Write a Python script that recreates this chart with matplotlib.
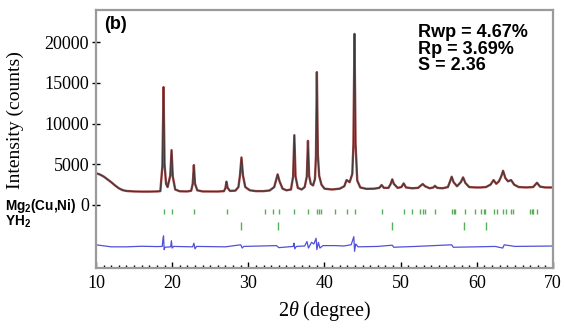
import matplotlib
matplotlib.use('Agg')
import matplotlib.pyplot as plt
from matplotlib.ticker import MultipleLocator

plt.rcParams['font.family'] = ['Liberation Serif', 'DejaVu Serif']
plt.rcParams['mathtext.fontset'] = 'custom'
plt.rcParams['mathtext.rm'] = 'Liberation Sans:bold'
plt.rcParams['mathtext.it'] = 'Liberation Serif:italic'

# Rietveld profile (2theta in degree, intensity in counts)
two_theta = [10.0, 10.5, 11.0, 11.5, 12.0, 12.5, 13.0, 13.5, 14.0, 15.0, 16.0, 17.0, 18.0, 18.45,
             18.72, 18.87, 19.0, 19.2, 19.4,
             19.75, 19.92, 20.08, 20.4, 21.0, 22.0, 22.5,
             22.7, 22.85, 23.0, 23.3, 24.0, 25.0, 26.0, 26.8,
             27.0, 27.13, 27.28, 27.6, 28.3, 28.7,
             28.9, 29.1, 29.3, 29.6, 30.2, 31.0, 32.0, 32.8, 33.4,
             33.6, 33.85, 34.1, 34.5, 35.0, 35.6,
             35.88, 36.04, 36.2, 36.5, 37.0, 37.4,
             37.68, 37.83, 37.98, 38.2, 38.5, 38.75,
             38.88, 39.0, 39.13, 39.3, 39.6, 40.0, 41.0, 42.0, 42.6, 42.9, 43.3, 43.65,
             43.8, 43.94, 44.08, 44.3, 44.7, 45.5, 46.5, 47.2, 47.5, 47.8, 48.4, 48.7, 48.9,
             49.1, 49.6, 50.1, 50.4, 50.7, 51.5, 52.3, 52.6, 52.9, 53.2, 53.8, 54.3, 54.5,
             54.8, 55.5, 56.2, 56.45, 56.7, 56.95, 57.4, 57.9, 58.2, 58.5, 59.0, 59.8, 60.5,
             61.2, 61.8, 62.2, 62.55, 62.9, 63.2, 63.45, 63.75, 64.1, 64.5, 64.9, 65.5, 66.5,
             67.4, 67.9, 68.3, 69.0, 70.0]
counts = [3900, 3750, 3500, 3150, 2800, 2400, 2050, 1820, 1720, 1660, 1640, 1640, 1660, 1700,
          4800, 14490, 5000, 2600, 2200,
          3600, 6740, 3500, 1900, 1680, 1660, 1750,
          2600, 4900, 2600, 1800, 1660, 1650, 1650, 1700,
          2100, 2860, 2100, 1720, 1760, 2200,
          3600, 5840, 3600, 2200, 1800, 1700, 1700, 1780, 2200,
          2900, 3760, 2900, 2000, 1800, 1900,
          3500, 8580, 3500, 2100, 1900, 2200,
          3500, 7880, 3600, 2600, 2400, 3200,
          6000, 16330, 6200, 3600, 2500, 2000, 1900, 2000, 2300, 3060, 2800, 3800,
          7500, 21030, 7500, 3000, 2150, 1980, 2000, 2100, 2450, 2100, 2100, 2600, 3150,
          2600, 2100, 2200, 2650, 2150, 2050, 2100, 2350, 2570, 2300, 2050, 2150, 2350,
          2100, 2050, 2200, 2800, 3470, 2800, 2300, 2800, 3390, 2700, 2200, 2150, 2150,
          2200, 2500, 3060, 2600, 2900, 3500, 4200, 3300, 2900, 3060, 2500, 2200, 2150,
          2200, 2730, 2250, 2150, 2150]

# observed - calculated, shifted below the pattern
diff_theta = [10, 10.8, 12, 14, 16, 18, 18.7, 18.8, 18.87, 18.95, 19.05, 19.8, 19.9, 20.0, 20.2,
              22.7, 22.85, 23.0, 23.2, 27, 29.0, 29.2, 29.4, 33.7, 34.0, 35.9, 36.0, 36.1, 36.3,
              37.4, 37.7, 37.9, 38.3, 38.6, 38.9, 39.0, 39.2, 39.4, 39.8, 41.5, 42.5, 43.5,
              43.85, 43.95, 44.1, 44.4, 47, 48.9, 49.1, 52, 56.7, 56.9, 60, 62.4, 63.4, 63.6,
              65, 70]
diff_counts = [-4900, -5000, -5150, -5150, -5080, -5120, -5100, -4100, -3800, -5500, -5200,
               -5150, -4400, -5300, -5100, -5150, -4700, -5400, -5100, -5150, -4900, -5300,
               -5100, -5000, -5250, -5100, -4700, -5400, -5100, -5050, -4500, -5300, -4600,
               -4800, -4100, -5500, -4600, -5300, -5000, -5000, -5050, -4900, -3900, -5700,
               -4800, -5150, -5100, -4950, -5200, -5100, -4900, -5200, -5150, -5100, -5300,
               -4900, -5100, -5050]

# Bragg reflection positions
mg2_pos = [18.87, 19.92, 22.88, 27.15, 32.2, 33.3, 34.0, 36.05, 37.85, 39.0, 39.3, 39.6, 41.4,
           42.9, 44.0, 47.5, 50.4, 51.5, 52.6, 52.9, 53.2, 54.5, 56.7, 57.0, 57.2, 58.5, 59.7,
           60.6, 60.9, 61.1, 62.3, 62.6, 63.5, 63.8, 64.5, 64.7, 67.0, 67.2, 67.4, 67.9]
yh2_pos = [29.05, 33.85, 48.9, 58.3, 61.2]

stats_text = 'Rwp = 4.67%\nRp = 3.69%\nS = 2.36'

fig = plt.figure(figsize=(5.66, 3.28), dpi=100)
ax = fig.add_axes([0.1696, 0.183, 0.8074, 0.7865])

ax.plot(two_theta, counts, color='#8b2222', lw=1.7, alpha=0.85)
ax.plot(two_theta, counts, color='#3a3a3a', lw=0.7)
ax.vlines(mg2_pos, -1130, -520, color='#5aae5a', lw=1.0)
ax.vlines(yh2_pos, -3050, -2150, color='#5aae5a', lw=1.0)
ax.plot(diff_theta, diff_counts, color='#5050d8', lw=0.9)

ax.set_xlim(10, 70)
ax.set_ylim(-7750, 23970)
ax.set_yticks([0, 5000, 10000, 15000, 20000])
ax.xaxis.set_major_locator(MultipleLocator(10))
ax.xaxis.set_minor_locator(MultipleLocator(1))
ax.tick_params(axis='x', which='major', direction='in', length=4, width=1, labelsize=13, pad=5)
ax.tick_params(axis='x', which='minor', direction='in', length=2.5, width=1)
ax.tick_params(axis='y', direction='inout', length=6, width=1, labelsize=13, pad=2)
for s in ax.spines.values():
    s.set_color('#9a9a9a')
    s.set_linewidth(1.6)

ax.set_ylabel('Intensity (counts)', fontsize=14)
ax.yaxis.set_label_coords(-0.158, 0.574)
ax.set_xlabel(r'2$\theta$ (degree)', fontsize=14.5, labelpad=5)

ax.text(0.018, 0.975, '(b)', transform=ax.transAxes, ha='left', va='top',
        family='Liberation Sans', fontweight='bold', fontsize=13)
ax.text(0.705, 0.945, stats_text, transform=ax.transAxes, ha='left', va='top',
        family='Liberation Sans', fontweight='bold', fontsize=13, linespacing=0.95)

fig.text(0.008, 0.373, r'Mg$_2$(Cu,Ni)', ha='left', va='center',
         family='Liberation Sans', fontweight='bold', fontsize=9.8)
fig.text(0.008, 0.323, r'YH$_2$', ha='left', va='center',
         family='Liberation Sans', fontweight='bold', fontsize=9.8)

fig.savefig('out.png', dpi=100)
